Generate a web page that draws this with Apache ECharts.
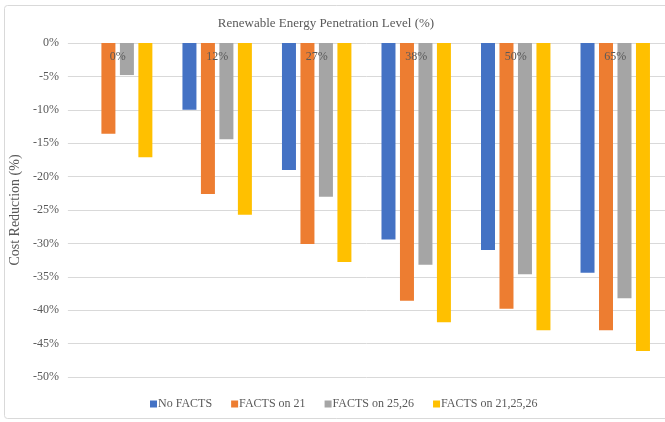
<!DOCTYPE html>
<html><head><meta charset="utf-8">
<script src="https://cdn.jsdelivr.net/npm/echarts@6/dist/echarts.min.js"></script>
<style>html,body{margin:0;padding:0;background:#fff}#c{width:665px;height:422px}</style>
</head><body><div id="c"></div>
<script>
var categories = ['0%', '12%', '27%', '38%', '50%', '65%'];
var noFacts = [0, -10.0, -19.0, -29.4, -31.0, -34.4];
var facts21 = [-13.6, -22.6, -30.1, -38.6, -39.8, -43.0];
var facts2526 = [-4.8, -14.4, -23.0, -33.2, -34.6, -38.2];
var facts212526 = [-17.1, -25.7, -32.8, -41.8, -43.0, -46.1];
var seriesNames = ['No FACTS', 'FACTS on 21', 'FACTS on 25,26', 'FACTS on 21,25,26'];
var colors = ['#4472C4', '#ED7D31', '#A5A5A5', '#FFC000'];
var font = '"Liberation Serif", "Times New Roman", serif';

var chart = echarts.init(document.getElementById('c'));
var data = [noFacts, facts21, facts2526, facts212526];
chart.setOption({
  animation: false,
  backgroundColor: '#fff',
  graphic: [{type: 'rect', shape: {x: 4.5, y: 5.5, width: 670, height: 413, r: 3}, style: {fill: 'none', stroke: '#D9D9D9', lineWidth: 1}, z: -1}],
  title: {text: 'Renewable Energy Penetration Level (%)', left: 321, top: 12, textAlign: 'center',
    textStyle: {fontFamily: font, fontSize: 13, fontWeight: 'normal', color: '#595959'}},
  legend: {bottom: 7, left: 145, itemWidth: 7, itemHeight: 7, itemGap: 19, icon: 'rect',
    textStyle: {fontFamily: font, fontSize: 12, color: '#595959', padding: [0, 0, 0, -4]},
    data: seriesNames},
  grid: {left: 62, top: 43, width: 606, height: 334},
  xAxis: {type: 'category', data: categories, position: 'top', z: 10,
    axisLine: {show: false}, axisTick: {show: false},
    axisLabel: {inside: true, margin: 8, fontFamily: font, fontSize: 12, color: '#595959'}},
  yAxis: {type: 'value', min: -50, max: 0, interval: 5,
    name: 'Cost Reduction (%)', nameLocation: 'middle', nameGap: 34, nameRotate: 90,
    nameTextStyle: {fontFamily: font, fontSize: 14, color: '#595959'},
    axisLine: {show: false}, axisTick: {show: false},
    axisLabel: {formatter: function (v) { return v + '%'; }, margin: 9, fontFamily: font, fontSize: 12, color: '#595959'},
    splitLine: {lineStyle: {color: '#D9D9D9', width: 1}}},
  series: data.map(function (d, i) {
    return {name: seriesNames[i], type: 'bar', data: d, barWidth: 14, barGap: '32%',
      itemStyle: {color: colors[i]}};
  })
});
</script></body></html>
